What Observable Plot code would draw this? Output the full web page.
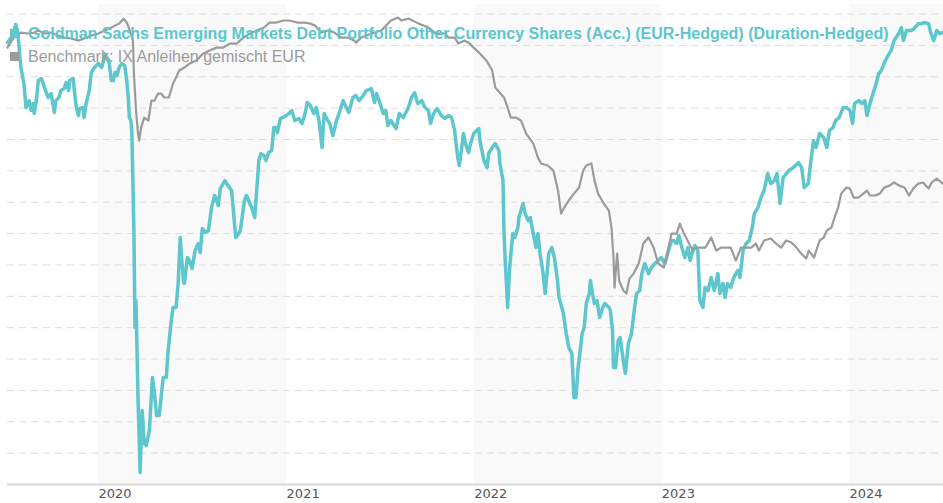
<!DOCTYPE html>
<html>
<head>
<meta charset="utf-8">
<script src="https://cdn.jsdelivr.net/npm/d3@7"></script>
<script src="https://cdn.jsdelivr.net/npm/@observablehq/plot@0.6"></script>
<style>
  html, body { margin: 0; padding: 0; background: #ffffff; }
  #wrap { position: relative; width: 943px; height: 503px; overflow: hidden; }
  #legend { position: absolute; left: 10px; top: 22px; font-family: "Liberation Sans", Arial, sans-serif; font-size: 16px; line-height: 23px; white-space: nowrap; pointer-events: none; }
  .sw { display: inline-block; width: 9px; height: 9px; margin-right: 9px; vertical-align: 1px; }
</style>
</head>
<body>
<div id="wrap">
  <div id="chart"></div>
  <div id="legend"></div>
</div>
<script>
const fundName = "Goldman Sachs Emerging Markets Debt Portfolio Other Currency Shares (Acc.) (EUR-Hedged) (Duration-Hedged)";
const benchName = "Benchmark: IX Anleihen gemischt EUR";
const fundColor = "#5ec6cd";
const benchColor = "#9b9b9b";

const yearTicks = ["2020-01-01", "2021-01-01", "2022-01-01", "2023-01-01", "2024-01-01"];
const shadedYears = [["2020-01-01", "2021-01-01"], ["2022-01-01", "2023-01-01"], ["2024-01-01", "2024-07-02"]];
const gridValues = [72, 74, 76, 78, 80, 82, 84, 86, 88, 90, 92, 94, 96, 98, 100];
const xStart = "2019-07-08";
const xEnd = "2024-07-02";
const yDomain = [70, 100.61];

const fundDates = [
"2019-07-08","2019-07-18","2019-07-24","2019-07-28","2019-08-03","2019-08-09","2019-08-13","2019-08-19","2019-08-23","2019-08-27","2019-08-29",
"2019-09-02","2019-09-06","2019-09-12","2019-09-18","2019-09-25","2019-10-01","2019-10-07","2019-10-10","2019-10-16","2019-10-20","2019-10-26","2019-10-30",
"2019-11-04","2019-11-06","2019-11-13","2019-11-15","2019-11-19","2019-11-23","2019-11-25","2019-12-02","2019-12-04","2019-12-08","2019-12-14","2019-12-18","2019-12-24",
"2020-01-01","2020-01-07","2020-01-11","2020-01-13","2020-01-21","2020-01-22","2020-01-26","2020-01-30","2020-02-02","2020-02-06","2020-02-10","2020-02-15","2020-02-21","2020-02-25","2020-02-28",
"2020-03-01","2020-03-04","2020-03-06","2020-03-10","2020-03-12","2020-03-14","2020-03-18","2020-03-22","2020-03-26","2020-03-30","2020-04-03","2020-04-09","2020-04-15","2020-04-19","2020-04-23","2020-04-28",
"2020-05-06","2020-05-12","2020-05-15","2020-05-21","2020-05-25","2020-05-31","2020-06-04","2020-06-08","2020-06-14","2020-06-16","2020-06-22","2020-06-26",
"2020-07-01","2020-07-07","2020-07-13","2020-07-17","2020-07-21","2020-07-27","2020-08-02","2020-08-08","2020-08-14","2020-08-18","2020-08-21","2020-08-25",
"2020-09-03","2020-09-09","2020-09-16","2020-09-24","2020-09-30","2020-10-03","2020-10-11","2020-10-15","2020-10-19","2020-10-25","2020-10-31",
"2020-11-08","2020-11-12","2020-11-18","2020-11-22","2020-11-27","2020-12-03","2020-12-07","2020-12-11","2020-12-14","2020-12-20","2020-12-28",
"2021-01-06","2021-01-11","2021-01-17","2021-01-25","2021-01-31","2021-02-06","2021-02-10","2021-02-16","2021-02-23","2021-02-28",
"2021-03-05","2021-03-11","2021-03-15","2021-03-22","2021-03-26","2021-04-01","2021-04-08","2021-04-13","2021-04-21","2021-04-27",
"2021-05-02","2021-05-10","2021-05-16","2021-05-22","2021-05-30","2021-06-05","2021-06-15","2021-06-21","2021-06-25","2021-06-30",
"2021-07-08","2021-07-13","2021-07-17","2021-07-23","2021-07-29","2021-08-02","2021-08-08","2021-08-16","2021-08-26",
"2021-09-01","2021-09-07","2021-09-13","2021-09-21","2021-09-27","2021-10-04","2021-10-08","2021-10-14","2021-10-21","2021-10-29",
"2021-11-05","2021-11-12","2021-11-18","2021-11-24","2021-11-26","2021-11-30","2021-12-03","2021-12-07","2021-12-11","2021-12-15","2021-12-21","2021-12-25","2021-12-31",
"2022-01-10","2022-01-12","2022-01-20","2022-01-26","2022-01-29","2022-02-05","2022-02-11","2022-02-18","2022-02-20","2022-02-26","2022-02-28",
"2022-03-03","2022-03-07","2022-03-11","2022-03-17","2022-03-21","2022-03-27","2022-03-29","2022-04-06","2022-04-10","2022-04-16","2022-04-20","2022-04-26",
"2022-05-01","2022-05-05","2022-05-09","2022-05-15","2022-05-19","2022-05-22","2022-05-26","2022-06-01","2022-06-06","2022-06-12","2022-06-15","2022-06-23","2022-06-29",
"2022-07-04","2022-07-10","2022-07-14","2022-07-18","2022-07-22","2022-07-24","2022-07-30","2022-08-03","2022-08-07","2022-08-13","2022-08-15","2022-08-19","2022-08-23","2022-08-28",
"2022-09-02","2022-09-08","2022-09-12","2022-09-20","2022-09-23","2022-09-27","2022-09-29","2022-10-03","2022-10-08","2022-10-12","2022-10-18","2022-10-22","2022-10-28",
"2022-11-03","2022-11-09","2022-11-13","2022-11-19","2022-11-23","2022-11-29","2022-12-06","2022-12-12","2022-12-18","2022-12-25","2022-12-31",
"2023-01-07","2023-01-14","2023-01-20","2023-01-24","2023-01-30","2023-02-03","2023-02-09","2023-02-15","2023-02-21","2023-02-25",
"2023-03-01","2023-03-06","2023-03-12","2023-03-16","2023-03-22","2023-03-26","2023-04-01","2023-04-07","2023-04-13","2023-04-20","2023-04-24","2023-04-30",
"2023-05-04","2023-05-09","2023-05-15","2023-05-21","2023-05-29","2023-06-02","2023-06-08","2023-06-14","2023-06-20","2023-06-26","2023-06-30",
"2023-07-07","2023-07-13","2023-07-19","2023-07-26","2023-08-01","2023-08-08","2023-08-13","2023-08-19","2023-08-25",
"2023-09-05","2023-09-14","2023-09-24","2023-09-30","2023-10-05","2023-10-13","2023-10-15","2023-10-23","2023-10-28",
"2023-11-04","2023-11-12","2023-11-18","2023-11-23","2023-11-30","2023-12-05","2023-12-12","2023-12-20","2023-12-26",
"2024-01-02","2024-01-07","2024-01-11","2024-01-19","2024-01-25","2024-01-31","2024-02-04","2024-02-10","2024-02-16","2024-02-22","2024-02-27",
"2024-03-03","2024-03-09","2024-03-16","2024-03-22","2024-03-28","2024-04-06","2024-04-11","2024-04-15","2024-04-21","2024-04-30",
"2024-05-06","2024-05-14","2024-05-20","2024-05-25","2024-06-03","2024-06-07","2024-06-13","2024-06-19","2024-06-24","2024-06-30"
];
const fundValues = [
98.18,98.63,99.33,98.82,96.59,95.57,94.04,94.48,93.85,94.29,93.66,
94.48,95.76,95.89,95.31,94.68,94.93,93.72,94.48,94.68,95.12,95.25,95.63,
95.12,95.76,95.89,95.12,94.04,93.53,93.97,94.04,93.40,94.29,95.12,96.27,96.59,
96.84,96.59,97.03,97.48,97.03,96.84,95.76,95.76,96.27,96.08,96.59,96.84,96.72,95.76,94.68,
93.40,93.21,92.44,86.00,80.01,81.73,75.36,70.77,74.72,72.61,72.49,73.44,76.82,75.80,74.40,74.40,
76.82,76.82,78.35,80.27,81.29,81.29,82.82,85.75,83.01,82.82,84.47,84.28,
83.77,84.92,85.37,84.79,86.32,86.07,86.20,87.66,88.43,88.11,87.79,88.87,
89.38,89.06,88.75,85.75,86.00,86.20,88.11,88.43,88.11,87.66,87.02,
90.66,91.10,90.98,90.66,91.17,91.30,92.76,92.76,92.44,93.34,93.46,
93.66,93.85,93.21,93.34,93.02,93.66,94.36,94.17,93.66,94.04,
93.21,91.49,93.66,93.21,93.02,92.25,93.21,93.66,94.48,94.04,
93.72,94.68,94.80,94.48,94.80,95.12,95.25,94.36,94.93,94.48,
93.66,93.85,92.89,93.21,92.89,92.70,93.66,93.40,94.04,
94.68,94.99,94.29,94.48,94.04,93.85,93.02,93.66,93.97,93.53,
93.34,93.53,93.40,92.57,91.93,90.85,90.34,91.30,92.38,91.74,91.17,91.74,92.38,
92.70,91.93,90.66,90.21,91.10,91.49,91.74,91.30,90.47,89.38,86.00,
83.84,81.29,83.84,86.00,85.75,86.39,87.02,87.92,87.28,86.83,87.02,86.00,
85.11,86.00,84.73,83.45,82.18,83.20,84.73,85.11,84.47,83.01,81.92,80.97,79.63,
78.74,78.35,75.55,75.55,77.46,77.91,79.63,80.01,81.54,82.18,83.01,82.18,81.54,81.73,
80.65,81.29,81.54,81.29,81.09,79.82,77.46,77.46,79.18,79.37,77.91,77.08,78.99,
79.63,81.29,82.18,82.37,83.45,84.09,83.45,83.84,84.09,84.28,84.47,
84.09,84.92,85.56,85.56,85.37,85.88,85.11,84.47,85.11,84.28,
84.73,85.24,84.92,81.73,81.29,82.56,82.37,83.20,82.37,83.45,82.18,82.82,
81.92,82.82,82.56,83.20,83.65,83.20,84.92,85.37,85.56,86.39,87.28,
87.66,88.30,88.75,89.83,89.19,89.38,89.83,87.92,89.57,
90.02,90.21,90.53,90.21,88.94,89.19,89.83,91.93,91.49,
92.38,92.12,91.49,92.57,92.76,93.21,93.40,94.04,94.04,
93.85,93.02,94.29,94.48,94.29,94.48,93.53,94.29,94.93,95.57,96.21,
96.40,96.91,97.35,97.67,98.31,98.76,99.14,98.31,98.95,98.95,
99.08,99.39,99.39,99.46,99.39,98.82,98.31,98.95,98.76,98.82
];

const benchDates = [
"2019-07-08","2019-07-20","2019-08-03","2019-08-17","2019-08-29","2019-09-06","2019-09-18","2019-09-30","2019-10-14","2019-10-26",
"2019-11-09","2019-11-23","2019-12-04","2019-12-18","2020-01-01","2020-01-13","2020-01-26","2020-02-10","2020-02-19","2020-02-25","2020-02-29",
"2020-03-08","2020-03-10","2020-03-14","2020-03-18","2020-03-20","2020-03-24","2020-03-30","2020-04-07","2020-04-13","2020-04-19","2020-04-26",
"2020-05-02","2020-05-08","2020-05-17","2020-05-25","2020-05-31","2020-06-06","2020-06-16","2020-06-26","2020-07-09","2020-07-23",
"2020-08-04","2020-08-18","2020-08-31","2020-09-12","2020-09-26","2020-10-09","2020-10-21","2020-11-04","2020-11-18","2020-11-29","2020-12-12","2020-12-26",
"2021-01-07","2021-01-21","2021-02-04","2021-02-16","2021-02-25","2021-03-09","2021-03-22","2021-04-04","2021-04-17","2021-04-30",
"2021-05-12","2021-05-16","2021-05-26","2021-06-15","2021-07-04","2021-07-23","2021-08-06","2021-08-12","2021-08-26","2021-09-15",
"2021-10-04","2021-10-16","2021-10-23","2021-11-05","2021-11-12","2021-11-24","2021-12-01","2021-12-13","2021-12-23","2021-12-31",
"2022-01-12","2022-01-25","2022-02-05","2022-02-11","2022-02-21","2022-02-28","2022-03-07","2022-03-13","2022-03-23","2022-04-02","2022-04-12","2022-04-26",
"2022-05-05","2022-05-11","2022-05-24","2022-06-04","2022-06-13","2022-06-19","2022-06-25","2022-07-04","2022-07-14","2022-07-24",
"2022-08-01","2022-08-07","2022-08-17","2022-08-23","2022-08-30","2022-09-10","2022-09-20","2022-09-25","2022-09-29",
"2022-10-01","2022-10-06","2022-10-10","2022-10-18","2022-10-24","2022-10-30","2022-11-07","2022-11-17","2022-11-26","2022-12-06","2022-12-16","2022-12-25",
"2023-01-05","2023-01-14","2023-01-20","2023-01-30","2023-02-05","2023-02-13","2023-02-23","2023-03-02","2023-03-08","2023-03-18","2023-03-27",
"2023-04-07","2023-04-17","2023-04-26","2023-05-05","2023-05-15","2023-05-25","2023-06-04","2023-06-14","2023-06-24",
"2023-07-03","2023-07-09","2023-07-19","2023-08-01","2023-08-11","2023-08-21","2023-08-31","2023-09-10","2023-09-20","2023-09-29",
"2023-10-09","2023-10-14","2023-10-24","2023-11-04","2023-11-12","2023-11-18","2023-11-27","2023-12-03","2023-12-10","2023-12-16","2023-12-26",
"2024-01-02","2024-01-09","2024-01-19","2024-01-28","2024-02-04","2024-02-10","2024-02-20","2024-02-29","2024-03-09","2024-03-19","2024-03-28",
"2024-04-07","2024-04-17","2024-04-26","2024-05-04","2024-05-14","2024-05-23","2024-06-03","2024-06-09","2024-06-19","2024-06-28","2024-06-30"
];
const benchValues = [
97.86,98.50,98.82,98.76,98.82,98.95,98.76,98.82,98.63,98.50,
98.44,98.31,98.44,98.63,98.76,98.95,99.14,99.39,99.71,99.46,99.14,
98.31,96.21,93.85,92.38,91.93,92.76,93.40,93.21,94.48,94.48,94.93,
94.93,94.68,94.68,95.57,95.95,96.40,96.59,96.84,97.03,97.48,
97.67,97.86,97.86,98.12,98.12,98.50,98.76,98.95,99.14,99.46,99.46,99.59,
99.59,99.46,99.46,99.39,99.27,98.82,98.95,98.82,98.50,98.50,
98.31,98.18,98.50,98.76,98.95,99.59,99.78,99.59,99.71,99.39,
99.14,98.82,98.76,98.76,98.50,98.50,98.12,98.31,98.12,97.86,
97.48,97.03,96.40,95.31,94.93,94.68,94.04,93.40,93.40,93.21,92.38,91.74,
90.85,90.47,90.34,90.02,88.75,87.28,87.66,88.11,88.55,88.94,
90.02,90.34,90.47,89.38,88.55,87.92,87.47,86.39,84.47,
82.56,84.73,83.01,82.37,82.18,83.13,83.45,84.09,85.37,85.75,85.11,84.09,
83.84,85.11,86.00,86.00,86.64,86.00,85.37,84.92,85.11,85.11,85.11,
85.75,84.92,85.11,85.11,85.11,84.28,85.11,85.11,85.11,
85.37,84.92,85.56,85.69,85.37,85.11,85.56,85.43,85.11,84.73,
84.41,84.92,84.47,85.56,85.75,86.20,86.39,87.02,87.66,88.55,88.94,
88.87,88.30,88.30,88.55,88.75,88.43,88.43,88.55,88.94,89.06,89.26,
89.06,88.94,88.43,88.87,89.19,89.26,88.87,89.26,89.51,89.26,89.19
];

const fund = fundDates.map((d, i) => ({date: new Date(d), value: fundValues[i]}));
const bench = benchDates.map((d, i) => ({date: new Date(d), value: benchValues[i]}));
const bands = shadedYears.map(([a, b]) => ({x1: new Date(a), x2: new Date(b)}));

const chart = Plot.plot({
  width: 943,
  height: 503,
  marginLeft: 7,
  marginRight: 0,
  marginTop: 4,
  marginBottom: 19,
  style: {background: "transparent", fontFamily: "'DejaVu Sans', sans-serif", fontSize: "13px", overflow: "visible"},
  x: {type: "utc", domain: [new Date(xStart), new Date(xEnd)], axis: null},
  y: {domain: yDomain, axis: null},
  marks: [
    Plot.rect(bands, {x1: "x1", x2: "x2", y1: yDomain[0], y2: yDomain[1], fill: "#f9f9f9"}),
    Plot.ruleY(gridValues, {stroke: "#dddddd", strokeWidth: 1, strokeDasharray: "7,5"}),
    Plot.ruleY([yDomain[0]], {stroke: "#d9d9d9", strokeWidth: 2}),
    Plot.line(fund, {x: "date", y: "value", stroke: fundColor, strokeWidth: 3.5, strokeLinejoin: "round"}),
    Plot.line(bench, {x: "date", y: "value", stroke: benchColor, strokeWidth: 2.2, strokeLinejoin: "round"}),
    Plot.axisX(yearTicks.map(d => new Date(d)), {tickSize: 0, tickPadding: 4, textAnchor: "start", tickFormat: d3.utcFormat("%Y"), fill: "#555", fontSize: 13})
  ]
});
document.getElementById("chart").appendChild(chart);

const legend = document.getElementById("legend");
[[fundName, fundColor, "bold"], [benchName, benchColor, "normal"]].forEach(([name, color, weight]) => {
  const row = document.createElement("div");
  row.style.color = color;
  row.style.fontWeight = weight;
  const sw = document.createElement("span");
  sw.className = "sw";
  sw.style.background = color;
  row.appendChild(sw);
  row.appendChild(document.createTextNode(name));
  legend.appendChild(row);
});
</script>
</body>
</html>
